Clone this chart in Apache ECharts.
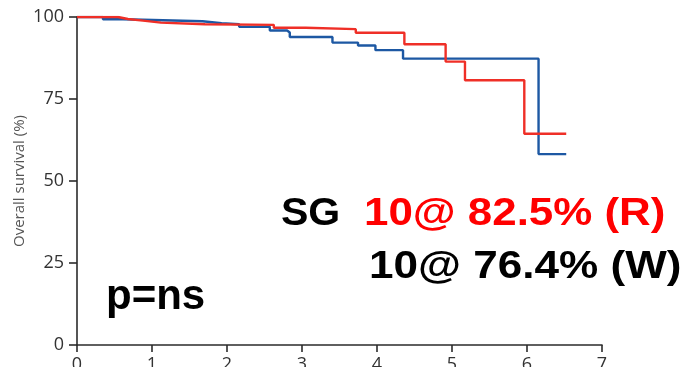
<!DOCTYPE html>
<html><head><meta charset="utf-8">
<script src="https://cdn.jsdelivr.net/npm/echarts@6/dist/echarts.min.js"></script>
<style>html,body{margin:0;padding:0;background:#fff}#c{width:687px;height:367px}</style>
</head><body><div id="c"></div>
<script>
// Kaplan-Meier step points: time (years) where survival changes, survival (%)
const blueTimes = [0, 0.346, 0.613, 1.674, 1.928, 2.162, 2.571, 2.801, 2.837, 3.406, 3.747, 3.979, 4.347, 6.154, 6.523];
const blueSurv  = [100, 99.3, 98.7, 98.1, 97.8, 97.0, 95.9, 95.3, 93.9, 92.2, 91.3, 89.9, 87.3, 58.2, 58.2];
const redTimes  = [0, 0.546, 0.679, 0.879, 1.119, 1.705, 2.624, 3.050, 3.717, 4.365, 4.915, 5.173, 5.964, 6.523];
const redSurv   = [100, 99.4, 98.9, 98.3, 97.8, 97.6, 96.7, 96.3, 95.2, 91.7, 86.4, 80.7, 64.4, 64.4];
const xTicks = [0, 1, 2, 3, 4, 5, 6, 7];
const yTicks = [0, 25, 50, 75, 100];
const yTitle = 'Overall survival (%)';
const textSG = 'SG';
const textR = '10@ 82.5% (R)';
const textW = '10@ 76.4% (W)';
const textP = 'p=ns';

const zip = (a, b) => a.map((v, i) => [v, b[i]]);
const chart = echarts.init(document.getElementById('c'), null, {renderer: 'canvas'});
const axisCol = '#2b2b2b';
const boldFont = 'bold {s}px "Liberation Sans", Arial, sans-serif';
chart.setOption({
  animation: false,
  grid: {left: 77, right: 85, top: 17, bottom: 22, containLabel: false, outerBoundsMode: 'none'},
  xAxis: {
    type: 'value', min: xTicks[0], max: xTicks[xTicks.length - 1], interval: 1,
    axisLine: {lineStyle: {color: axisCol, width: 1.6}},
    axisTick: {show: true, length: 7, lineStyle: {color: axisCol, width: 1.6}},
    axisLabel: {margin: 11, fontSize: 18, color: '#333', fontFamily: '"Open Sans", sans-serif'},
    splitLine: {show: false}
  },
  yAxis: {
    type: 'value', min: yTicks[0], max: yTicks[yTicks.length - 1], interval: 25,
    name: yTitle, nameLocation: 'middle', nameGap: 50, nameRotate: 90, nameMoveOverlap: false,
    nameTextStyle: {fontSize: 15, color: '#555', fontFamily: '"Open Sans", sans-serif'},
    axisLine: {show: true, lineStyle: {color: axisCol, width: 1.6}},
    axisTick: {show: true, length: 8, lineStyle: {color: axisCol, width: 1.6}},
    axisLabel: {margin: 13, fontSize: 18, color: '#333', fontFamily: '"Open Sans", sans-serif'},
    splitLine: {show: false}
  },
  series: [
    {type: 'line', step: 'end', data: zip(blueTimes, blueSurv), showSymbol: false,
     lineStyle: {color: '#1d58a3', width: 2.4}, z: 2},
    {type: 'line', step: 'end', data: zip(redTimes, redSurv), showSymbol: false,
     lineStyle: {color: '#ef2f27', width: 2.4}, z: 3}
  ],
  graphic: [
    {type: 'text', x: 281, y: 196, scaleX: 1.08, style: {text: textSG, font: boldFont.replace('{s}', 38), fill: '#000'}},
    {type: 'text', x: 364, y: 196, scaleX: 1.155, style: {text: textR, font: boldFont.replace('{s}', 38), fill: '#ff0000'}},
    {type: 'text', x: 369, y: 249, scaleX: 1.16, style: {text: textW, font: boldFont.replace('{s}', 38), fill: '#000'}},
    {type: 'text', x: 106, y: 276, style: {text: textP, font: boldFont.replace('{s}', 42), fill: '#000'}}
  ]
});
</script></body></html>
